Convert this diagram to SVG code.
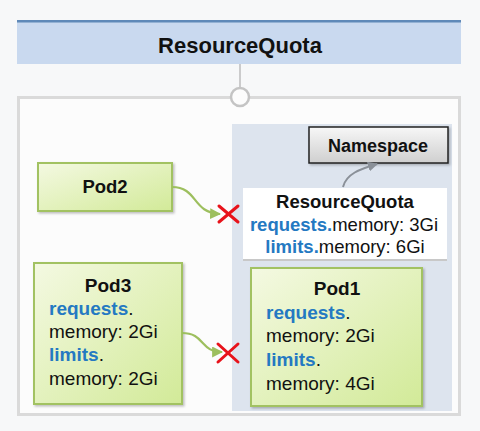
<svg xmlns="http://www.w3.org/2000/svg" width="480" height="431" viewBox="0 0 480 431">
<defs>
<style>
text{font-family:"Liberation Sans",Arial,sans-serif;fill:#111}
.b{font-weight:bold}
.blue{fill:#2479c2;font-weight:bold}
.pod{stroke:#a2c262;stroke-width:2;fill:url(#podg)}
.green{fill:none;stroke:#9dbf5e;stroke-width:2.2}
.x{stroke:#e8131b;stroke-width:3;stroke-linecap:round}
</style>
<linearGradient id="podg" x1="0" y1="0" x2="1" y2="1">
<stop offset="0" stop-color="#f4f9e2"/>
<stop offset="1" stop-color="#d2ea98"/>
</linearGradient>
<linearGradient id="nsg" x1="0" y1="0" x2="0" y2="1">
<stop offset="0" stop-color="#f7f7f7"/>
<stop offset="1" stop-color="#cfcfcf"/>
</linearGradient>
<filter id="sh" x="-10%" y="-10%" width="130%" height="130%">
<feDropShadow dx="1.5" dy="1.5" stdDeviation="1.2" flood-color="#000" flood-opacity="0.25"/>
</filter>
<marker id="ag" viewBox="0 0 10 10" refX="9" refY="5" markerWidth="5" markerHeight="5" orient="auto">
<path d="M0,0 L10,5 L0,10 z" fill="#9dbf5e"/>
</marker>
<marker id="agr" viewBox="0 0 10 10" refX="9" refY="5" markerWidth="5" markerHeight="5" orient="auto">
<path d="M0,0 L10,5 L0,10 z" fill="#8a9098"/>
</marker>
</defs>
<rect x="0" y="0" width="480" height="431" fill="#f7f8f9"/>

<g id="header">
<rect x="17" y="20" width="444" height="44" fill="#c9d9ef"/>
<rect x="17" y="20" width="444" height="2.5" fill="#5f89b8"/>
<text x="240" y="53" text-anchor="middle" class="b" font-size="22">ResourceQuota</text>
</g>

<g id="frame">
<rect x="18.5" y="97.5" width="441" height="317" fill="#fcfcfc" stroke="#dadada" stroke-width="3"/>
</g>

<g id="connectors">
<line x1="240" y1="64" x2="240" y2="88" stroke="#bdbdbd" stroke-width="1.5"/>
<circle cx="240" cy="97" r="9" fill="#fcfcfc" stroke="#c4c4c4" stroke-width="2.5"/>
</g>

<g id="namespace-area">
<rect x="232" y="124" width="220" height="287" fill="#dde4ee"/>
</g>

<g id="namespace">
<rect x="309" y="127" width="139" height="36" fill="url(#nsg)" stroke="#222" stroke-width="1.5" filter="url(#sh)"/>
<text x="378" y="151.5" text-anchor="middle" class="b" font-size="18">Namespace</text>
</g>

<g id="resourcequota">
<rect x="243" y="188" width="204" height="72" fill="#ffffff"/>
<line x1="243" y1="260" x2="447" y2="260" stroke="#c8c8c8" stroke-width="2"/>
<text x="345" y="208" text-anchor="middle" class="b" font-size="18.5">ResourceQuota</text>
<text x="344" y="231" text-anchor="middle" font-size="18.5"><tspan class="blue">requests.</tspan>memory: 3Gi</text>
<text x="345" y="253" text-anchor="middle" font-size="18.5"><tspan class="blue">limits.</tspan>memory: 6Gi</text>
</g>

<g id="pod2">
<rect x="38" y="163" width="134" height="48" class="pod" filter="url(#sh)"/>
<text x="105" y="193" text-anchor="middle" class="b" font-size="18.5">Pod2</text>
</g>

<g id="pod3">
<rect x="34" y="263" width="148" height="141" class="pod" filter="url(#sh)"/>
<text x="108" y="292" text-anchor="middle" class="b" font-size="19">Pod3</text>
<text x="49" y="315" font-size="19"><tspan class="blue">requests</tspan>.</text>
<text x="49" y="338" font-size="19">memory: 2Gi</text>
<text x="49" y="361" font-size="19"><tspan class="blue">limits</tspan>.</text>
<text x="49" y="385" font-size="19">memory: 2Gi</text>
</g>

<g id="pod1">
<rect x="251" y="268" width="171" height="138" class="pod" filter="url(#sh)"/>
<text x="337" y="295" text-anchor="middle" class="b" font-size="19">Pod1</text>
<text x="266" y="319" font-size="19"><tspan class="blue">requests</tspan>.</text>
<text x="266" y="342" font-size="19">memory: 2Gi</text>
<text x="266" y="366" font-size="19"><tspan class="blue">limits</tspan>.</text>
<text x="266" y="390" font-size="19">memory: 4Gi</text>
</g>

<g id="edges">
<path d="M172,187 C198,187 192,213 220,214" class="green" marker-end="url(#ag)"/>
<path d="M182,333 C205,333 200,352 222,352" class="green" marker-end="url(#ag)"/>
<path d="M343,187 C346,174 360,169 377,164" fill="none" stroke="#8a9098" stroke-width="2" marker-end="url(#agr)"/>
<line x1="219" y1="206" x2="238" y2="222" class="x"/>
<line x1="238" y1="206" x2="219" y2="222" class="x"/>
<line x1="218" y1="344" x2="238" y2="362" class="x"/>
<line x1="238" y1="344" x2="218" y2="362" class="x"/>
</g>
</svg>
